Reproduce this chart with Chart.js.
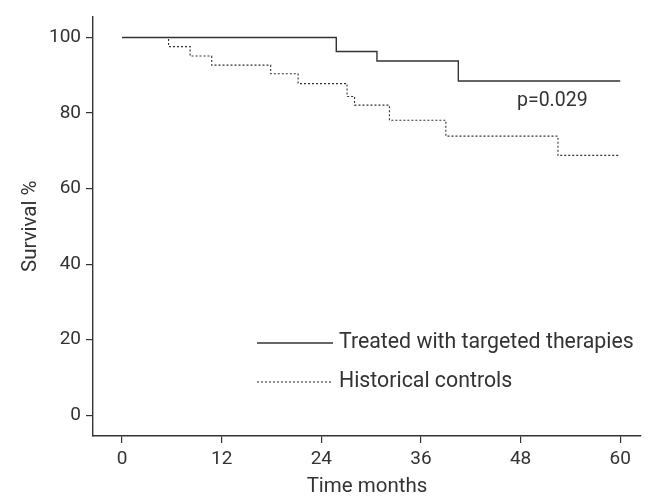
<!DOCTYPE html>
<html>
<head>
<meta charset="utf-8">
<script src="https://cdn.jsdelivr.net/npm/chart.js@4.4.0/dist/chart.umd.min.js"></script>
<style>
  html, body { margin: 0; padding: 0; background: #fff; }
  #wrap { width: 651px; height: 499px; position: relative; }
</style>
</head>
<body>
<div id="wrap"><canvas id="km" width="651" height="499"></canvas></div>
<script>
// Datos (meses, supervivencia %)
const treatedMonths = [0, 25.8, 30.7, 40.5, 60];
const treatedSurvival = [100, 96.3, 93.8, 88.5, 88.5];

const controlMonths = [0, 5.6, 8.2, 10.8, 17.9, 21.2, 27.1, 28.0, 32.2, 39.0, 52.5, 60];
const controlSurvival = [100, 97.6, 95.1, 92.7, 90.4, 87.8, 84.4, 82.1, 78.1, 73.9, 68.8, 68.8];

const xTicks = [0, 12, 24, 36, 48, 60];
const yTicks = [0, 20, 40, 60, 80, 100];

const seriesLabels = ['Treated with targeted therapies', 'Historical controls'];
const pValueText = 'p=0.029';

const INK = '#333333';
const FONT = 'Roboto, "DejaVu Sans", sans-serif';

function toPoints(xs, ys) {
    return xs.map((x, i) => ({ x: x, y: ys[i] }));
}

// Leyenda y valor p dibujados dentro del área del gráfico
const annotations = {
    id: 'annotations',
    afterDraw(chart) {
        const ctx = chart.ctx;
        ctx.save();
        ctx.fillStyle = INK;
        ctx.textBaseline = 'middle';
        ctx.textAlign = 'left';

        // valor p
        ctx.font = '19.5px ' + FONT;
        ctx.fillText(pValueText, 517, 101);

        // leyenda
        ctx.font = '21.3px ' + FONT;
        const rows = [
            { y: 343, dash: [], width: 1.4 },
            { y: 382, dash: [2, 2], width: 1.1 }
        ];
        rows.forEach((r, i) => {
            ctx.beginPath();
            ctx.setLineDash(r.dash);
            ctx.lineWidth = r.width;
            ctx.strokeStyle = INK;
            ctx.moveTo(257, r.y);
            ctx.lineTo(333, r.y);
            ctx.stroke();
            ctx.setLineDash([]);
            ctx.fillText(seriesLabels[i], 339, r.y);
        });
        ctx.restore();
    }
};

new Chart(document.getElementById('km'), {
    type: 'scatter',
    data: {
        datasets: [{
            label: seriesLabels[0],
            data: toPoints(treatedMonths, treatedSurvival),
            showLine: true,
            stepped: 'before',
            borderColor: INK,
            borderWidth: 1.4,
            pointRadius: 0,
            order: 0
        }, {
            label: seriesLabels[1],
            data: toPoints(controlMonths, controlSurvival),
            showLine: true,
            stepped: 'before',
            borderColor: INK,
            borderWidth: 1.1,
            borderDash: [2, 2],
            pointRadius: 0,
            order: 1
        }]
    },
    options: {
        responsive: false,
        animation: false,
        events: [],
        layout: { padding: { top: 13, right: 10, left: 0, bottom: 0 } },
        plugins: {
            legend: { display: false },
            tooltip: { enabled: false }
        },
        scales: {
            x: {
                type: 'linear',
                min: -3.5,
                max: 62.5,
                afterBuildTicks: s => { s.ticks = xTicks.map(v => ({ value: v })); },
                afterFit: s => { s.height = 63; },
                grid: { drawOnChartArea: false, drawTicks: true, tickLength: 7, color: INK, lineWidth: 1.2 },
                border: { display: true, color: INK, width: 1.4 },
                ticks: { color: INK, font: { family: FONT, size: 19 }, padding: 5, maxRotation: 0 },
                title: { display: true, text: 'Time months', color: INK, font: { family: FONT, size: 20.5 }, padding: { top: 4, bottom: 0 } }
            },
            y: {
                type: 'linear',
                min: -5.5,
                max: 105.6,
                afterBuildTicks: s => { s.ticks = yTicks.map(v => ({ value: v })); },
                afterFit: s => { s.width = 93; },
                grid: { drawOnChartArea: false, drawTicks: true, tickLength: 7, color: INK, lineWidth: 1.2 },
                border: { display: true, color: INK, width: 1.4 },
                ticks: { color: INK, font: { family: FONT, size: 19 }, padding: 5 },
                title: { display: true, text: 'Survival %', color: INK, font: { family: FONT, size: 20.5 }, padding: { top: 19, bottom: 0 } }
            }
        }
    },
    plugins: [annotations]
});
</script>
</body>
</html>
